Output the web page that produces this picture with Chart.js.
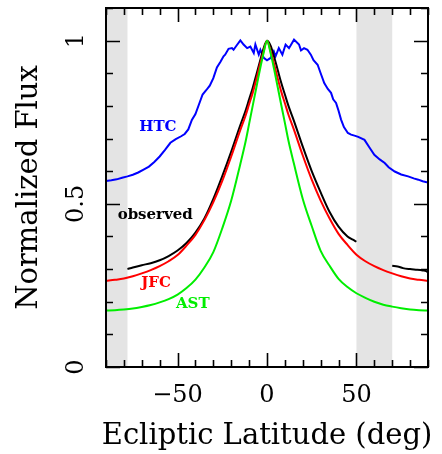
<!DOCTYPE html>
<html><head><meta charset="utf-8">
<script src="https://cdn.jsdelivr.net/npm/chart.js@4/dist/chart.umd.min.js"></script>
<style>html,body{margin:0;padding:0;background:#fff;}#wrap{width:442px;height:454px;}</style>
</head><body><div id="wrap"><canvas id="c" width="442" height="454"></canvas></div>
<script>
// ---- data ----
const smoothLat = [-90,-85,-80,-75,-70,-65,-60,-55,-50,-45,-40,-35,-30,-25,-20,-15,-12,-10,-8,-6,-4,-2,0,2,4,6,8,10,12,15,20,25,30,35,40,45,50,55,60,65,70,75,80,85,90];
const jfcFlux = [0.264,0.267,0.271,0.278,0.287,0.297,0.309,0.324,0.343,0.372,0.405,0.450,0.505,0.570,0.645,0.725,0.770,0.805,0.840,0.880,0.925,0.965,1.000,
                 0.968,0.928,0.884,0.843,0.808,0.773,0.728,0.648,0.574,0.510,0.455,0.408,0.374,0.344,0.324,0.309,0.297,0.287,0.278,0.271,0.267,0.264];
const astFlux = [0.173,0.174,0.176,0.179,0.184,0.190,0.198,0.208,0.222,0.242,0.268,0.305,0.352,0.425,0.510,0.620,0.690,0.745,0.800,0.855,0.910,0.960,1.000,
                 0.962,0.912,0.857,0.802,0.748,0.693,0.624,0.515,0.432,0.356,0.310,0.270,0.245,0.226,0.212,0.200,0.191,0.185,0.180,0.176,0.174,0.173];
const obsLat = [-78,-75,-70,-65,-60,-55,-50,-45,-40,-35,-30,-25,-20,-15,-12,-10,-8,-6,-4,-2,0,2,4,6,8,10,12,15,20,25,30,35,40,45,48,50,60,70,73,76,80,84,87,89,90];
const obsFlux = [0.300,0.305,0.312,0.318,0.327,0.340,0.357,0.380,0.412,0.455,0.515,0.585,0.660,0.740,0.785,0.820,0.855,0.895,0.935,0.975,1.000,
                 0.985,0.950,0.910,0.870,0.835,0.800,0.755,0.675,0.600,0.535,0.475,0.430,0.400,0.390,0.384,null,0.310,0.308,0.303,0.300,0.298,0.296,0.294,0.290];
const htcLat = [-90,-87,-84,-81,-78,-75,-72,-69,-66,-63,-60,-57,-54,-51,-48,-46,-44,-42,-40,-38,-36,-34,-32,-30,-28,-26,-24.3,-23.4,-21.5,-19.6,
                -18.7,-17,-14.9,-13.1,-11.1,-9.3,-7.4,-6.5,-4.6,-3.7,-1.8,0,2,3.8,4.8,6.6,8.6,10.4,12.3,15.1,17.9,19,20.7,22.6,24.5,26,28.3,30,32,34,
                35.8,37,38.6,40,41.4,43,45.2,47,48.9,51,54.5,57,60,63,65.8,68,71.4,75,78.9,82,84.6,87,90];
const htcFlux = [0.570,0.572,0.575,0.580,0.584,0.589,0.596,0.605,0.614,0.628,0.645,0.665,0.687,0.698,0.707,0.714,0.728,0.757,0.775,0.805,
                 0.835,0.848,0.862,0.885,0.918,0.935,0.952,0.957,0.975,0.977,0.972,0.985,1.001,0.988,0.977,0.982,0.962,0.988,0.957,0.972,
                 0.947,0.940,0.947,0.967,0.952,0.977,0.957,0.988,0.977,1.003,0.988,0.970,0.977,0.972,0.957,0.940,0.926,0.900,0.870,0.852,
                 0.840,0.820,0.809,0.785,0.758,0.735,0.717,0.712,0.709,0.705,0.696,0.675,0.650,0.636,0.625,0.612,0.599,0.590,0.584,0.578,
                 0.574,0.569,0.565];
const bandStart = [-90, 50];
const bandEnd = [-78, 70];
const xTickLabels = [-50, 0, 50];
const yTickLabels = [0, 0.5, 1];
const seriesNames = ['HTC', 'observed', 'JFC', 'AST'];
const seriesColors = ['#0000ff', '#000000', '#ff0000', '#00ee00'];
const nameLat = [-61, -62.5, -62, -41.5];
const nameFlux = [0.736, 0.466, 0.258, 0.193];
const xTitle = 'Ecliptic Latitude (deg)';
const yTitle = 'Normalized Flux';

const pts = (xs, ys) => xs.map((v, i) => ({x: v, y: ys[i]}));

const decor = {
  id: 'decor',
  beforeDatasetsDraw(chart) {
    const {ctx, chartArea: a, scales: {x}} = chart;
    ctx.save();
    ctx.fillStyle = '#e4e4e4';
    bandStart.forEach((s, i) => {
      const p1 = x.getPixelForValue(s), p2 = x.getPixelForValue(bandEnd[i]);
      ctx.fillRect(p1, a.top, p2 - p1, a.bottom - a.top);
    });
    ctx.restore();
  },
  afterDatasetsDraw(chart) {
    const {ctx, chartArea: a, scales: {x, y}} = chart;
    ctx.save();
    ctx.strokeStyle = '#000';
    ctx.lineWidth = 1.6;
    ctx.beginPath();
    for (let v = -90; v <= 90.001; v += 10) {
      const p = Math.round(x.getPixelForValue(v)) + 0.5;
      const len = (Math.abs(v) % 50 === 0) ? 14 : 7;
      ctx.moveTo(p, a.bottom); ctx.lineTo(p, a.bottom - len);
      ctx.moveTo(p, a.top); ctx.lineTo(p, a.top + len);
    }
    for (let k = 0; k <= 11; k++) {
      const v = k / 10;
      const p = Math.round(y.getPixelForValue(v)) + 0.5;
      const len = (k % 5 === 0) ? 14 : 7;
      ctx.moveTo(a.left, p); ctx.lineTo(a.left + len, p);
      ctx.moveTo(a.right, p); ctx.lineTo(a.right - len, p);
    }
    ctx.stroke();
    ctx.lineWidth = 2;
    ctx.strokeRect(a.left, a.top, a.right - a.left, a.bottom - a.top);

    ctx.fillStyle = '#000';
    ctx.font = '24px "DejaVu Serif"';
    ctx.textAlign = 'center';
    ctx.textBaseline = 'middle';
    xTickLabels.forEach(v => {
      ctx.fillText(String(v).replace('-', '\u2212'), x.getPixelForValue(v), 396);
    });
    yTickLabels.forEach(v => {
      ctx.save();
      ctx.translate(77, y.getPixelForValue(v));
      ctx.rotate(-Math.PI / 2);
      ctx.fillText(String(v), 0, 0);
      ctx.restore();
    });
    ctx.font = '29px "DejaVu Serif"';
    ctx.fillText(xTitle, (a.left + a.right) / 2, 436);
    ctx.save();
    ctx.translate(29, (a.top + a.bottom) / 2);
    ctx.rotate(-Math.PI / 2);
    ctx.fillText(yTitle, 0, 0);
    ctx.restore();

    ctx.font = 'bold 15px "DejaVu Serif"';
    seriesNames.forEach((n, i) => {
      ctx.fillStyle = seriesColors[i];
      ctx.fillText(n, x.getPixelForValue(nameLat[i]), y.getPixelForValue(nameFlux[i]));
    });
    ctx.restore();
  }
};

const lineDs = (label, data, color, smooth) => ({
  label, data, borderColor: color, backgroundColor: color, borderWidth: 2,
  pointRadius: 0, fill: false, spanGaps: false,
  cubicInterpolationMode: smooth ? 'monotone' : 'default', tension: 0
});

new Chart(document.getElementById('c'), {
  type: 'line',
  data: {
    datasets: [
      lineDs('AST', pts(smoothLat, astFlux), seriesColors[3], true),
      lineDs('JFC', pts(smoothLat, jfcFlux), seriesColors[2], true),
      lineDs('observed', pts(obsLat, obsFlux), seriesColors[1], true),
      lineDs('HTC', pts(htcLat, htcFlux), seriesColors[0], false)
    ]
  },
  options: {
    responsive: false, animation: false, devicePixelRatio: 1,
    layout: {padding: {top: 8, right: 14, left: 0, bottom: 0}},
    plugins: {legend: {display: false}, tooltip: {enabled: false}},
    scales: {
      x: {type: 'linear', min: -90, max: 90, afterFit: s => { s.height = 87; },
          ticks: {display: false}, grid: {display: false}, border: {display: false}},
      y: {type: 'linear', min: 0, max: 1.1, afterFit: s => { s.width = 106; },
          ticks: {display: false}, grid: {display: false}, border: {display: false}}
    }
  },
  plugins: [decor]
});
</script></body></html>
